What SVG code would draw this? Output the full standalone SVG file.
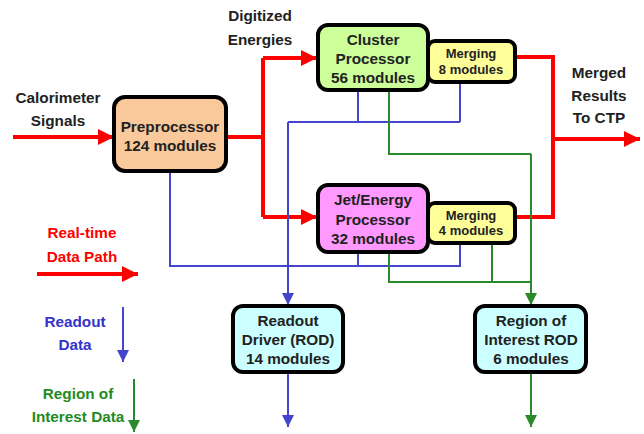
<svg xmlns="http://www.w3.org/2000/svg" width="644" height="434" viewBox="0 0 644 434">
<style>
text{font-family:"Liberation Sans",Arial,sans-serif;font-weight:bold;text-anchor:middle;fill:#222}
.sm{font-size:13px}
.lg{font-size:15.3px}
.box{stroke:#000;stroke-width:4}
.red{stroke:#FF0000;stroke-width:4;fill:none}
.blue{stroke:#4444CC;stroke-width:2;fill:none}
.green{stroke:#2A8A2A;stroke-width:2;fill:none}
</style>
<defs>
<marker id="ar" markerUnits="userSpaceOnUse" markerWidth="17" markerHeight="17" refX="16" refY="8" orient="auto"><path d="M0,0 L16,8 L0,16 z" fill="#FF0000"/></marker>
<marker id="ab" markerUnits="userSpaceOnUse" markerWidth="13" markerHeight="13" refX="12" refY="6" orient="auto"><path d="M0,0 L12,6 L0,12 z" fill="#4444CC"/></marker>
<marker id="ag" markerUnits="userSpaceOnUse" markerWidth="13" markerHeight="13" refX="12" refY="6" orient="auto"><path d="M0,0 L12,6 L0,12 z" fill="#2A8A2A"/></marker>
</defs>
<rect width="644" height="434" fill="#fff"/>
<g id="connectors">
<path class="red" d="M13,137 H114" marker-end="url(#ar)"/>
<path class="red" d="M226,137 H263 M263,58 V217"/>
<path class="red" d="M263,58 H317" marker-end="url(#ar)"/>
<path class="red" d="M263,217 H317" marker-end="url(#ar)"/>
<path class="red" d="M515,57 H553 V217 H515"/>
<path class="red" d="M553,139 H640" marker-end="url(#ar)"/>
<path class="blue" d="M358,90 V122 M460,82 V122 M460,122 H288"/>
<path class="blue" d="M288,122 V305" marker-end="url(#ab)"/>
<path class="blue" d="M170,171 V266 H460 V243 M358,252 V266"/>
<path class="blue" d="M288,372 V427" marker-end="url(#ab)"/>
<path class="green" d="M389,90 V154 H531"/>
<path class="green" d="M531,154 V305" marker-end="url(#ag)"/>
<path class="green" d="M389,252 V282 H531 M492,243 V282"/>
<path class="green" d="M531,372 V427" marker-end="url(#ag)"/>
<path class="red" d="M37,274 H138" marker-end="url(#ar)"/>
<path class="blue" d="M123,307 V362" marker-end="url(#ab)"/>
<path class="green" d="M134,379 V432" marker-end="url(#ag)"/>
</g>
<g id="preprocessor">
<rect class="box" x="114" y="97" width="112" height="74" rx="11" fill="#F9C89B"/>
<text class="lg" x="170" y="132">Preprocessor</text>
<text class="lg" x="170" y="151">124 modules</text>
</g>
<g id="cluster">
<rect class="box" x="318" y="25" width="110" height="65" rx="10" fill="#CCFF99"/>
<text class="lg" x="373" y="45">Cluster</text>
<text class="lg" x="373" y="64">Processor</text>
<text class="lg" x="373" y="83">56 modules</text>
</g>
<g id="merging-cluster">
<rect class="box" x="428" y="41" width="87" height="41" rx="7" fill="#FFFF99"/>
<text class="sm" x="471" y="58">Merging</text>
<text class="sm" x="471" y="74">8 modules</text>
</g>
<g id="jet">
<rect class="box" x="318" y="185" width="110" height="67" rx="10" fill="#FF99FF"/>
<text class="lg" x="373" y="205">Jet/Energy</text>
<text class="lg" x="373" y="225">Processor</text>
<text class="lg" x="373" y="244">32 modules</text>
</g>
<g id="merging-jet">
<rect class="box" x="428" y="203" width="87" height="40" rx="7" fill="#FFFF99"/>
<text class="sm" x="471" y="220">Merging</text>
<text class="sm" x="471" y="235">4 modules</text>
</g>
<g id="rod">
<rect class="box" x="233" y="306" width="110" height="66" rx="10" fill="#CCFFFF"/>
<text class="lg" x="288" y="326">Readout</text>
<text class="lg" x="288" y="345">Driver (ROD)</text>
<text class="lg" x="288" y="364">14 modules</text>
</g>
<g id="roi-rod">
<rect class="box" x="475" y="306" width="111" height="66" rx="10" fill="#CCFFFF"/>
<text class="lg" x="531" y="326">Region of</text>
<text class="lg" x="531" y="345">Interest ROD</text>
<text class="lg" x="531" y="364">6 modules</text>
</g>
<g id="labels">
<text class="lg" x="58" y="103">Calorimeter</text>
<text class="lg" x="58" y="126">Signals</text>
<text class="lg" x="260" y="21">Digitized</text>
<text class="lg" x="260" y="45">Energies</text>
<text class="lg" x="599" y="78">Merged</text>
<text class="lg" x="599" y="101">Results</text>
<text class="lg" x="599" y="123">To CTP</text>
<text class="lg" x="82" y="238" style="fill:#FF0000">Real-time</text>
<text class="lg" x="82" y="262" style="fill:#FF0000">Data Path</text>
<text class="lg" x="75" y="327" style="fill:#3333CC">Readout</text>
<text class="lg" x="75" y="350" style="fill:#3333CC">Data</text>
<text class="lg" x="78" y="399" style="fill:#228B22">Region of</text>
<text class="lg" x="78" y="422" style="fill:#228B22">Interest Data</text>
</g>
</svg>
